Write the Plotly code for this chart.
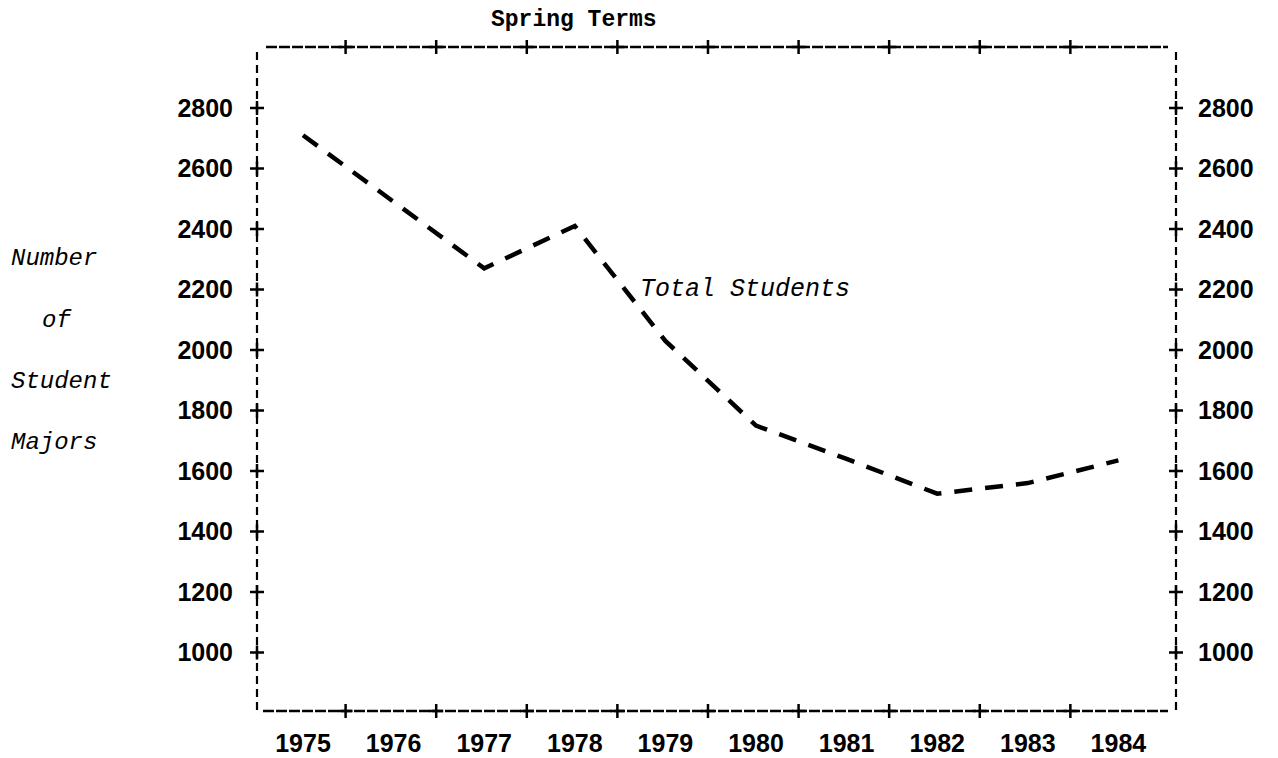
import plotly.graph_objects as go

# ---- data ----
years = ["1975", "1976", "1977", "1978", "1979", "1980", "1981", "1982", "1983", "1984"]
students = [2710, 2490, 2270, 2410, 2030, 1750, 1640, 1525, 1560, 1635]
y_ticks = [1000, 1200, 1400, 1600, 1800, 2000, 2200, 2400, 2600, 2800]
series_label = "Total Students"
chart_title = "Spring Terms"
ytitle_lines = ["Number", "of", "Student", "Majors"]

# ---- layout constants ----
OFF = 8                      # default body margin of the html page
W, H = 1270, 750
ML, MR, MT, MB = 257 - OFF, 102, 47 - OFF, 47
PW, PH = W - ML - MR, H - MT - MB
X_RANGE = [-0.508, 9.636]
Y_RANGE = [806.6, 3001.7]
xpos = list(range(len(years)))
edge_ticks = [k + 0.47 for k in range(len(years) - 1)]


def px_to_paper_x(px):
    return (px - OFF - ML) / PW


def px_to_paper_y(py):
    return (H - MB - (py - OFF)) / PH


LABEL_FONT = dict(family="Liberation Sans", size=25, color="black", weight="bold")
MONO_IT = dict(family="Liberation Mono", size=24, color="black", style="italic")

fig = go.Figure()

# data line
fig.add_trace(go.Scatter(
    x=xpos, y=students, mode="lines",
    line=dict(color="black", width=4.5, dash="18px,13px"),
    showlegend=False, hoverinfo="skip",
))

cross = dict(symbol="cross-thin", size=10, color="black",
             line=dict(color="black", width=2.5))

# left "+" ticks
fig.add_trace(go.Scatter(
    x=[X_RANGE[0]] * len(y_ticks), y=y_ticks, mode="markers",
    marker=cross, cliponaxis=False, showlegend=False, hoverinfo="skip",
))
# right "+" ticks (on right axis)
fig.add_trace(go.Scatter(
    x=[X_RANGE[1]] * len(y_ticks), y=y_ticks, mode="markers", yaxis="y2",
    marker=cross, cliponaxis=False, showlegend=False, hoverinfo="skip",
))
# top / bottom "+" ticks
fig.add_trace(go.Scatter(
    x=edge_ticks + edge_ticks,
    y=[Y_RANGE[1]] * len(edge_ticks) + [Y_RANGE[0]] * len(edge_ticks),
    mode="markers", marker=cross, cliponaxis=False,
    showlegend=False, hoverinfo="skip",
))

# dashed frame
fig.add_shape(type="line", xref="paper", yref="paper",
              x0=px_to_paper_x(266), x1=px_to_paper_x(1168), y0=1, y1=1,
              line=dict(color="black", width=2.5, dash="11px,2px"))
fig.add_shape(type="line", xref="paper", yref="paper",
              x0=px_to_paper_x(263), x1=px_to_paper_x(1168), y0=0, y1=0,
              line=dict(color="black", width=2.5, dash="11px,2px"))
for xp in (0, 1):
    fig.add_shape(type="line", xref="paper", yref="paper", x0=xp, x1=xp,
                  y0=px_to_paper_y(710), y1=px_to_paper_y(52),
                  line=dict(color="black", width=2.2, dash="8px,5px"))

# annotations
fig.add_annotation(text=chart_title, xref="paper", yref="paper",
                   x=px_to_paper_x(574), y=px_to_paper_y(20),
                   xanchor="center", yanchor="middle", showarrow=False,
                   font=dict(family="Liberation Mono", size=23, color="black", weight="bold"))
fig.add_annotation(text=series_label, x=3.70, y=2200, xanchor="left", yanchor="middle",
                   showarrow=False, font=dict(**{**MONO_IT, "size": 25}))
ytitle_x = [9, 40, 9, 9]
ytitle_y = [259, 320, 381, 442]
for txt, px, py in zip(ytitle_lines, ytitle_x, ytitle_y):
    fig.add_annotation(text=txt, xref="paper", yref="paper",
                       x=px_to_paper_x(px), y=px_to_paper_y(py),
                       xanchor="left", yanchor="middle", showarrow=False,
                       font=MONO_IT)

axis_common = dict(showgrid=False, zeroline=False, showline=False)
fig.update_layout(
    width=W, height=H,
    margin=dict(l=ML, r=MR, t=MT, b=MB, autoexpand=False),
    paper_bgcolor="white", plot_bgcolor="white",
    xaxis=dict(range=X_RANGE, tickvals=xpos, ticktext=years,
               ticks="outside", ticklen=10, tickcolor="rgba(0,0,0,0)",
               tickfont=LABEL_FONT, **axis_common),
    yaxis=dict(range=Y_RANGE, tickvals=y_ticks, ticks="outside", ticklen=18,
               tickcolor="rgba(0,0,0,0)", tickfont=LABEL_FONT, **axis_common),
    yaxis2=dict(range=Y_RANGE, tickvals=y_ticks, ticks="outside", ticklen=16,
                tickcolor="rgba(0,0,0,0)", tickfont=LABEL_FONT, overlaying="y",
                side="right", **axis_common),
    showlegend=False,
)

fig.write_html("out.html")
